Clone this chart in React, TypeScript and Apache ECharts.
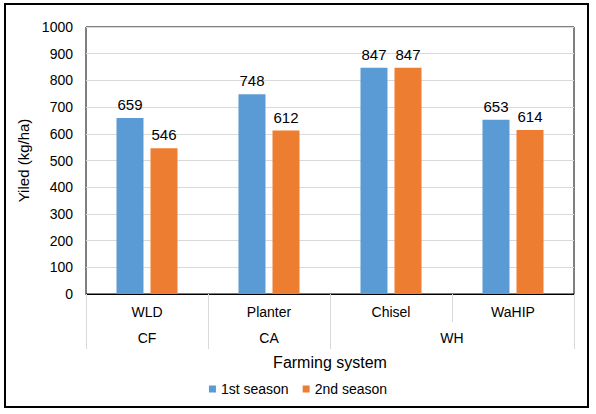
import React, { useEffect, useRef } from "react";
import * as echarts from "echarts";

const methods = ["WLD", "Planter", "Chisel", "WaHIP"];
const systemLabels = ["CF", "CA", "WH"];
const systemStart = [0, 1, 2];
const systemEnd = [1, 2, 4];
const season1 = [659, 748, 847, 653];
const season2 = [546, 612, 847, 614];
const seriesNames = ["1st season", "2nd season"];

const FONT = "'Liberation Sans', Arial, sans-serif";
const TXT = "#000";

export default function App() {
  const ref = useRef<HTMLDivElement>(null);
  useEffect(() => {
    if (!ref.current) return;
    const chart = echarts.init(ref.current, undefined, { renderer: "svg" });
    const centers = systemLabels.map((_, i) => (systemStart[i] + systemEnd[i]) / 2);
    const bounds = Array.from(new Set([...systemStart, ...systemEnd])).sort((a, b) => a - b);
    chart.setOption({
      animation: false,
      backgroundColor: "#fff",
      textStyle: { fontFamily: FONT, color: TXT },
      graphic: [
        {
          type: "rect",
          shape: { x: 5, y: 4, width: 583, height: 403 },
          style: { fill: "none", stroke: "#000", lineWidth: 2 },
          silent: true,
        },
      ],
      grid: {
        left: 86,
        right: 22,
        top: 27,
        bottom: 120,
        show: true,
        borderColor: "#000",
        borderWidth: 1,
        containLabel: false,
      },
      legend: {
        data: seriesNames,
        bottom: 13,
        left: "center",
        icon: "rect",
        itemWidth: 7,
        itemHeight: 7,
        itemGap: 14,
        textStyle: { fontFamily: FONT, fontSize: 14, color: TXT },
      },
      xAxis: [
        {
          type: "category",
          data: methods,
          axisLine: { show: true, lineStyle: { color: "#000", width: 1 } },
          axisTick: { show: true, interval: 0, length: 28, lineStyle: { color: "#D9D9D9" } },
          axisLabel: { interval: 0, margin: 11, fontSize: 14, color: TXT, fontFamily: FONT },
          splitLine: { show: false },
        },
        {
          type: "value",
          position: "bottom",
          offset: 28,
          min: 0,
          max: methods.length,
          axisLine: { show: false },
          splitLine: { show: false },
          axisTick: {
            show: true,
            length: 27,
            customValues: bounds,
            lineStyle: { color: "#D9D9D9" },
          },
          axisLabel: {
            customValues: centers,
            margin: 9,
            fontSize: 14,
            color: TXT,
            fontFamily: FONT,
            formatter: (v: number) => {
              const i = centers.findIndex((c) => Math.abs(c - v) < 1e-6);
              return i >= 0 ? systemLabels[i] : "";
            },
          },
          name: "Farming system",
          nameLocation: "middle",
          nameGap: 32,
          nameTextStyle: { fontSize: 16, color: TXT, fontFamily: FONT },
        },
      ],
      yAxis: {
        type: "value",
        min: 0,
        max: 1000,
        interval: 100,
        axisLine: { show: false },
        axisTick: { show: false },
        axisLabel: {
          margin: 13,
          fontSize: 14,
          color: TXT,
          fontFamily: FONT,
          formatter: (v: number) => String(v),
        },
        splitLine: { show: true, lineStyle: { color: "#D9D9D9", width: 1 } },
        name: "Yiled (kg/ha)",
        nameLocation: "middle",
        nameGap: 49,
        nameTextStyle: { fontSize: 15, color: TXT, fontFamily: FONT },
      },
      series: [
        {
          name: seriesNames[0],
          type: "bar",
          data: season1,
          barWidth: 27,
          barGap: "26%",
          itemStyle: { color: "#5B9BD5" },
          label: { show: true, position: "top", fontSize: 15, color: TXT, fontFamily: FONT, distance: 6 },
        },
        {
          name: seriesNames[1],
          type: "bar",
          data: season2,
          barWidth: 27,
          barGap: "26%",
          itemStyle: { color: "#ED7D31" },
          label: { show: true, position: "top", fontSize: 15, color: TXT, fontFamily: FONT, distance: 6 },
        },
      ],
    });
    return () => chart.dispose();
  }, []);
  return (
    <div
      ref={ref}
      style={{ position: "fixed", left: 0, top: 0, width: 596, height: 414 }}
    />
  );
}
